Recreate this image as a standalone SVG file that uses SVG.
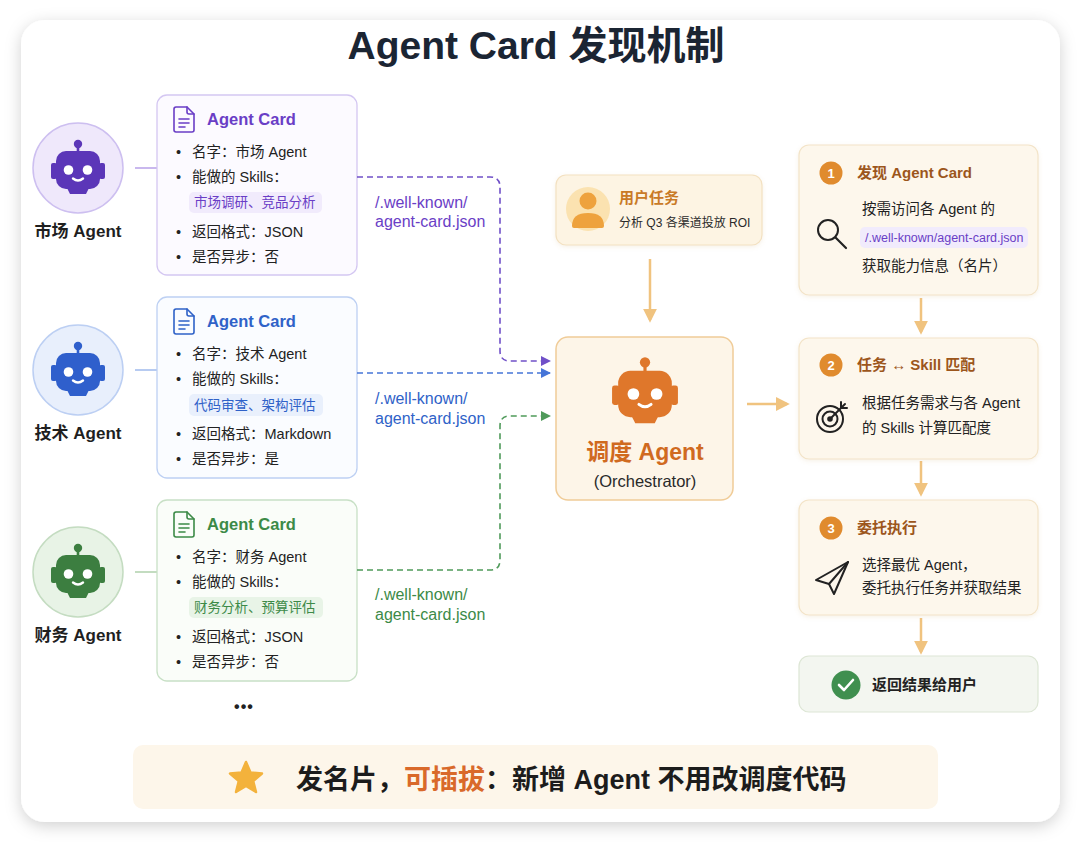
<svg xmlns="http://www.w3.org/2000/svg" xmlns:xlink="http://www.w3.org/1999/xlink" width="1080" height="842" viewBox="0 0 1080 842">
<defs>
<style>
text{font-family:"Liberation Sans","Noto Sans CJK SC",sans-serif;}
.title{font-size:39px;font-weight:bold;fill:#1b2533;}
.lbl{font-size:17px;font-weight:bold;fill:#1f1f1f;}
.hdr{font-size:16.5px;font-weight:bold;}
.bul{font-size:14.5px;fill:#222;}
.tag{font-size:13.5px;}
.url{font-size:16px;}
.body{font-size:14.5px;fill:#222;}
.stitle{font-size:15px;font-weight:bold;fill:#9c561c;}
.badge{font-size:13px;font-weight:bold;fill:#fff;}
.conn{fill:none;stroke-width:1.6;stroke-dasharray:6 4;}
.oarrow{fill:none;stroke:#f0c37f;stroke-width:2.5;}
.step{fill:#fdf7ec;stroke:#f3e4c8;stroke-width:1.2;}
</style>
<filter id="shadow" x="-10%" y="-10%" width="120%" height="120%">
<feDropShadow dx="0" dy="4" stdDeviation="8" flood-color="#000" flood-opacity="0.18"/>
</filter>
<filter id="soft" x="-10%" y="-10%" width="120%" height="130%">
<feDropShadow dx="0" dy="1.5" stdDeviation="2" flood-color="#c8a060" flood-opacity="0.15"/>
</filter>
<marker id="mP" viewBox="0 0 10 10" refX="9" refY="5" markerWidth="11" markerHeight="10" markerUnits="userSpaceOnUse" orient="auto"><path d="M0,0 L10,5 L0,10 z" fill="#7050c8"/></marker>
<marker id="mB" viewBox="0 0 10 10" refX="9" refY="5" markerWidth="11" markerHeight="10" markerUnits="userSpaceOnUse" orient="auto"><path d="M0,0 L10,5 L0,10 z" fill="#4675d8"/></marker>
<marker id="mG" viewBox="0 0 10 10" refX="9" refY="5" markerWidth="11" markerHeight="10" markerUnits="userSpaceOnUse" orient="auto"><path d="M0,0 L10,5 L0,10 z" fill="#4f9a5a"/></marker>
<marker id="mO" viewBox="0 0 10 10" refX="8" refY="5" markerWidth="14" markerHeight="14" markerUnits="userSpaceOnUse" orient="auto"><path d="M0,0 L10,5 L0,10 z" fill="#f0c37f"/></marker>
<g id="robot">
<rect x="-1.3" y="-23" width="2.6" height="5"/>
<circle cx="0" cy="-26" r="4.2"/>
<rect x="-22" y="-19" width="44" height="38" rx="10"/>
<rect x="-27" y="-7" width="6" height="16" rx="2"/>
<rect x="21" y="-7" width="6" height="16" rx="2"/>
<path d="M-11,18 h22 l-3,6 h-16 z"/>
<circle cx="-9.5" cy="0" r="4.8" fill="#fff"/>
<circle cx="9.5" cy="0" r="4.8" fill="#fff"/>
<path d="M-5,8.5 Q0,12.5 5,8.5" fill="none" stroke="#fff" stroke-width="2.4" stroke-linecap="round"/>
</g>
<g id="doc" fill="none" stroke-width="1.6" stroke-linejoin="round" stroke-linecap="round">
<path d="M2,0 h11 l7,7 v16 a2,2 0 0 1 -2,2 h-16 a2,2 0 0 1 -2,-2 v-21 a2,2 0 0 1 2,-2 z"/>
<path d="M13,0 v5 a2,2 0 0 0 2,2 h5"/>
<path d="M5,12 h10 M5,16 h10 M5,20 h6"/>
</g>
</defs>

<rect x="0" y="0" width="1080" height="842" fill="#ffffff"/>
<rect x="21" y="20" width="1039" height="802" rx="24" fill="#ffffff" filter="url(#shadow)"/>

<text class="title" x="536" y="59" text-anchor="middle">Agent Card 发现机制</text>

<!-- Agent: 市场 -->
<g id="agent-market">
<circle cx="78" cy="168" r="45" fill="#efe8fb" stroke="#cdbff0" stroke-width="1.5"/>
<use xlink:href="#robot" href="#robot" transform="translate(78,170)" fill="#5b36b8"/>
<text class="lbl" x="78" y="237" text-anchor="middle">市场 Agent</text>
<line x1="135" y1="168" x2="157" y2="168" stroke="#c9b8ee" stroke-width="2"/>
</g>
<g id="card-market">
<rect x="157" y="95" width="200" height="180" rx="10" fill="#fcfaff" stroke="#d4c7f2" stroke-width="1.3"/>
<use xlink:href="#doc" href="#doc" x="174" y="107" stroke="#6a3ec6"/>
<text class="hdr" x="207" y="125" fill="#6a3ec6">Agent Card</text>
<text class="bul" x="176" y="157">•<tspan x="192">名字：市场 Agent</tspan></text>
<text class="bul" x="176" y="182">•<tspan x="192">能做的 Skills：</tspan></text>
<rect x="189" y="192" width="133" height="21" rx="5" fill="#f1ebfc"/>
<text class="tag" x="194" y="207" fill="#6a3ec6">市场调研、竞品分析</text>
<text class="bul" x="176" y="237">•<tspan x="192">返回格式：JSON</tspan></text>
<text class="bul" x="176" y="262">•<tspan x="192">是否异步：否</tspan></text>
</g>

<!-- Agent: 技术 -->
<g id="agent-tech">
<circle cx="78" cy="370" r="45" fill="#e8effc" stroke="#bccff3" stroke-width="1.5"/>
<use xlink:href="#robot" href="#robot" transform="translate(78,372)" fill="#2f5fcc"/>
<text class="lbl" x="78" y="439" text-anchor="middle">技术 Agent</text>
<line x1="135" y1="370" x2="157" y2="370" stroke="#b7cbf1" stroke-width="2"/>
</g>
<g id="card-tech">
<rect x="157" y="297" width="200" height="181" rx="10" fill="#fafcff" stroke="#bdd0f3" stroke-width="1.3"/>
<use xlink:href="#doc" href="#doc" x="174" y="309" stroke="#2f62c8"/>
<text class="hdr" x="207" y="327" fill="#2f62c8">Agent Card</text>
<text class="bul" x="176" y="359">•<tspan x="192">名字：技术 Agent</tspan></text>
<text class="bul" x="176" y="384">•<tspan x="192">能做的 Skills：</tspan></text>
<rect x="189" y="394" width="134" height="22" rx="5" fill="#e9f0fc"/>
<text class="tag" x="194" y="410" fill="#2f62c8">代码审查、架构评估</text>
<text class="bul" x="176" y="439">•<tspan x="192">返回格式：Markdown</tspan></text>
<text class="bul" x="176" y="464">•<tspan x="192">是否异步：是</tspan></text>
</g>

<!-- Agent: 财务 -->
<g id="agent-finance">
<circle cx="78" cy="572" r="45" fill="#e8f3e6" stroke="#c4dcc1" stroke-width="1.5"/>
<use xlink:href="#robot" href="#robot" transform="translate(78,574)" fill="#3c7e40"/>
<text class="lbl" x="78" y="641" text-anchor="middle">财务 Agent</text>
<line x1="135" y1="572" x2="157" y2="572" stroke="#c3dcc0" stroke-width="2"/>
</g>
<g id="card-finance">
<rect x="157" y="500" width="200" height="181" rx="10" fill="#fafdf9" stroke="#c8e0c6" stroke-width="1.3"/>
<use xlink:href="#doc" href="#doc" x="174" y="512" stroke="#3c8a47"/>
<text class="hdr" x="207" y="530" fill="#3c8a47">Agent Card</text>
<text class="bul" x="176" y="562">•<tspan x="192">名字：财务 Agent</tspan></text>
<text class="bul" x="176" y="587">•<tspan x="192">能做的 Skills：</tspan></text>
<rect x="189" y="597" width="134" height="21" rx="5" fill="#e8f4e7"/>
<text class="tag" x="194" y="612" fill="#3c8a47">财务分析、预算评估</text>
<text class="bul" x="176" y="642">•<tspan x="192">返回格式：JSON</tspan></text>
<text class="bul" x="176" y="667">•<tspan x="192">是否异步：否</tspan></text>
</g>

<text x="244" y="712" text-anchor="middle" style="font-size:16px;font-weight:bold;fill:#222;letter-spacing:1px">•••</text>

<!-- connectors -->
<g id="connectors">
<path class="conn" d="M357,177 H490 Q500,177 500,187 V351 Q500,361 510,361 H550" stroke="#7050c8" marker-end="url(#mP)"/>
<path class="conn" d="M357,373 H550" stroke="#4675d8" marker-end="url(#mB)"/>
<path class="conn" d="M357,570 H490 Q500,570 500,560 V426 Q500,416 510,416 H550" stroke="#4f9a5a" marker-end="url(#mG)"/>
<text class="url" x="375" y="208" fill="#6a3ec6">/.well-known/</text>
<text class="url" x="375" y="227" fill="#6a3ec6">agent-card.json</text>
<text class="url" x="375" y="404" fill="#2f62c8">/.well-known/</text>
<text class="url" x="375" y="424" fill="#2f62c8">agent-card.json</text>
<text class="url" x="375" y="600" fill="#3c8a47">/.well-known/</text>
<text class="url" x="375" y="620" fill="#3c8a47">agent-card.json</text>
<line class="oarrow" x1="650" y1="259" x2="650" y2="320" marker-end="url(#mO)"/>
<line class="oarrow" x1="747" y1="404" x2="787" y2="404" marker-end="url(#mO)"/>
<line class="oarrow" x1="921" y1="298" x2="921" y2="332" marker-end="url(#mO)"/>
<line class="oarrow" x1="921" y1="461" x2="921" y2="494" marker-end="url(#mO)"/>
<line class="oarrow" x1="921" y1="618" x2="921" y2="652" marker-end="url(#mO)"/>
</g>

<!-- user task -->
<g id="user-task">
<rect x="556" y="175" width="206" height="70" rx="10" fill="#fdf4e3" stroke="#f3e1c1" stroke-width="1.2" filter="url(#soft)"/>
<circle cx="588" cy="209" r="22" fill="#fbe2b0"/>
<circle cx="588" cy="201" r="8.5" fill="#eea23d"/>
<path d="M572,226 Q572,213 588,213 Q604,213 604,226 Q604,228 602,228 H574 Q572,228 572,226 z" fill="#eea23d"/>
<text x="619" y="203" style="font-size:15px;font-weight:bold;fill:#c97a26">用户任务</text>
<text x="619" y="227" style="font-size:12px;fill:#2a2a2a">分析 Q3 各渠道投放 ROI</text>
</g>

<!-- orchestrator -->
<g id="orchestrator">
<rect x="556" y="337" width="177" height="163" rx="12" fill="#fdf5e8" stroke="#f0cc98" stroke-width="1.5"/>
<use xlink:href="#robot" href="#robot" transform="translate(645,394) scale(1.22)" fill="#df772b"/>
<text x="645" y="460" text-anchor="middle" style="font-size:23px;font-weight:bold;fill:#d06a1f">调度 Agent</text>
<text x="645" y="487" text-anchor="middle" style="font-size:16.5px;fill:#2a2a2a">(Orchestrator)</text>
</g>

<!-- step 1 -->
<g id="step-discover">
<rect class="step" x="799" y="145" width="239" height="150" rx="10" filter="url(#soft)"/>
<circle cx="831" cy="173" r="11.5" fill="#e08b2e"/>
<text class="badge" x="831" y="178" text-anchor="middle">1</text>
<text class="stitle" x="857" y="178">发现 Agent Card</text>
<circle cx="828" cy="230" r="10" fill="none" stroke="#222" stroke-width="2"/>
<line x1="835.5" y1="237.5" x2="846" y2="248" stroke="#222" stroke-width="2.2" stroke-linecap="round"/>
<text class="body" x="862" y="214">按需访问各 Agent 的</text>
<rect x="860" y="227" width="168" height="21" rx="5" fill="#f1ebfc"/>
<text x="865" y="242" style="font-size:12.5px;fill:#6a3ec6">/.well-known/agent-card.json</text>
<text class="body" x="862" y="271">获取能力信息（名片）</text>
</g>

<!-- step 2 -->
<g id="step-match">
<rect class="step" x="799" y="338" width="239" height="121" rx="10" filter="url(#soft)"/>
<circle cx="831" cy="365" r="11.5" fill="#e08b2e"/>
<text class="badge" x="831" y="370" text-anchor="middle">2</text>
<text class="stitle" x="857" y="370">任务 ↔ Skill 匹配</text>
<g fill="none" stroke="#222" stroke-width="2" stroke-linecap="round">
<circle cx="830" cy="419" r="13"/>
<circle cx="830" cy="419" r="7.5"/>
<line x1="830" y1="419" x2="845" y2="404"/>
<path d="M841,402 L841,408 L847,408"/>
</g>
<circle cx="830" cy="419" r="2.8" fill="#222"/>
<text class="body" x="862" y="408">根据任务需求与各 Agent</text>
<text class="body" x="862" y="433">的 Skills 计算匹配度</text>
</g>

<!-- step 3 -->
<g id="step-delegate">
<rect class="step" x="799" y="500" width="239" height="115" rx="10" filter="url(#soft)"/>
<circle cx="831" cy="528" r="11.5" fill="#e08b2e"/>
<text class="badge" x="831" y="533" text-anchor="middle">3</text>
<text class="stitle" x="857" y="533">委托执行</text>
<g fill="none" stroke="#222" stroke-width="2" stroke-linejoin="round" stroke-linecap="round">
<path d="M848,562 L816,580 L829,584 L834,594 Z"/>
<path d="M848,562 L829,584"/>
</g>
<text class="body" x="862" y="570">选择最优 Agent，</text>
<text class="body" x="862" y="593">委托执行任务并获取结果</text>
</g>

<!-- result -->
<g id="result">
<rect x="799" y="656" width="239" height="56" rx="10" fill="#f3f6f0" stroke="#dde6d5" stroke-width="1.2"/>
<circle cx="846" cy="685" r="14.5" fill="#3f8f4f"/>
<path d="M839,685 L844,690 L853,680" fill="none" stroke="#fff" stroke-width="2.6" stroke-linecap="round" stroke-linejoin="round"/>
<text x="872" y="690" style="font-size:15px;font-weight:bold;fill:#222">返回结果给用户</text>
</g>

<!-- banner -->
<g id="banner">
<rect x="133" y="745" width="805" height="64" rx="10" fill="#fdf6ea"/>
<polygon points="246,762 250.5,772.5 262,773.5 253.2,781 256,792 246,786 236,792 238.8,781 230,773.5 241.5,772.5" fill="#f3b23c" stroke="#f3b23c" stroke-width="2.5" stroke-linejoin="round"/>
<text x="296" y="789" style="font-size:27px;font-weight:bold;fill:#1c1c1c">发名片，<tspan fill="#d9692a">可插拔</tspan>：新增 Agent 不用改调度代码</text>
</g>
</svg>
